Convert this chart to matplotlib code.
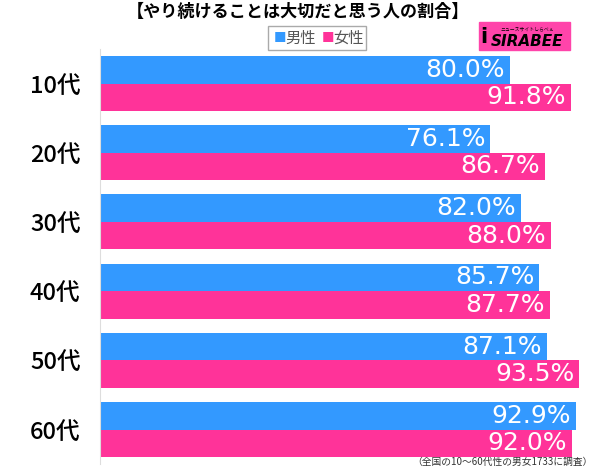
import matplotlib.pyplot as plt
import numpy as np
from matplotlib.patches import Rectangle

plt.rcParams['font.family'] = ['Noto Sans CJK JP', 'DejaVu Sans']

ages = ['10代', '20代', '30代', '40代', '50代', '60代']
male = [80.0, 76.1, 82.0, 85.7, 87.1, 92.9]
female = [91.8, 86.7, 88.0, 87.7, 93.5, 92.0]

blue = '#3399ff'
pink = '#ff3399'

fig = plt.figure(figsize=(6, 4.73), dpi=100)
ax = fig.add_axes([100 / 600, 0.0188, 500 / 600, 0.8778])

y = np.arange(len(ages))
h = 0.397
ax.barh(y - h / 2, male, height=h, color=blue)
ax.barh(y + h / 2, female, height=h, color=pink)

for i in range(len(ages)):
    ax.text(male[i] - 1, y[i] - h / 2, '%.1f%%' % male[i], color='white',
            ha='right', va='center', fontsize=18, family='DejaVu Sans')
    ax.text(female[i] - 1, y[i] + h / 2, '%.1f%%' % female[i], color='white',
            ha='right', va='center', fontsize=18, family='DejaVu Sans')

ax.set_xlim(0, 97.5)
ax.set_ylim(5.5, -0.5)
ax.set_yticks(y)
ax.set_yticklabels(ages, fontsize=17, fontweight='medium')
ax.tick_params(axis='y', length=0, pad=14)
ax.set_xticks([])
for s in ['top', 'right', 'bottom']:
    ax.spines[s].set_visible(False)
ax.spines['left'].set_color('#dddddd')

# title
fig.text(298 / 600, 0.975, '【やり続けることは大切だと思う人の割合】', ha='center', va='center',
         fontsize=12.3, fontweight='bold')

# legend
fig.patches.append(Rectangle((268 / 600, 1 - 50 / 473), 98 / 600, 24 / 473,
                             transform=fig.transFigure, fill=False,
                             edgecolor='#aaaaaa', lw=1))
fig.text(274 / 600, 1 - 38 / 473, '■', color=blue, fontsize=9, va='center')
fig.text(285 / 600, 1 - 38 / 473, '男性', color='#555555', fontsize=11, va='center')
fig.text(322 / 600, 1 - 38 / 473, '■', color=pink, fontsize=9, va='center')
fig.text(333 / 600, 1 - 38 / 473, '女性', color='#555555', fontsize=11, va='center')

# logo
fig.patches.append(Rectangle((479 / 600, 1 - 50 / 473), 91 / 600, 28 / 473,
                             transform=fig.transFigure, color='#ff44aa'))
fig.text(527 / 600, 1 - 29 / 473, 'ニュースサイトしらべぇ', fontsize=3.5,
         ha='center', va='center', color='black')
fig.text(527 / 600, 1 - 41 / 473, 'SIRABEE', fontsize=11, fontweight='bold',
         style='italic', ha='center', va='center', color='black',
         family='DejaVu Sans')
fig.text(484 / 600, 1 - 37 / 473, 'i', fontsize=15, fontweight='bold',
         ha='center', va='center', color='black', family='DejaVu Sans')

# note
fig.text(593 / 600, 1 - 462 / 473, '（全国の10～60代性の男女1733に調査）',
         ha='right', va='center', fontsize=7, color='#333333')

fig.savefig('out.png', dpi=100)
